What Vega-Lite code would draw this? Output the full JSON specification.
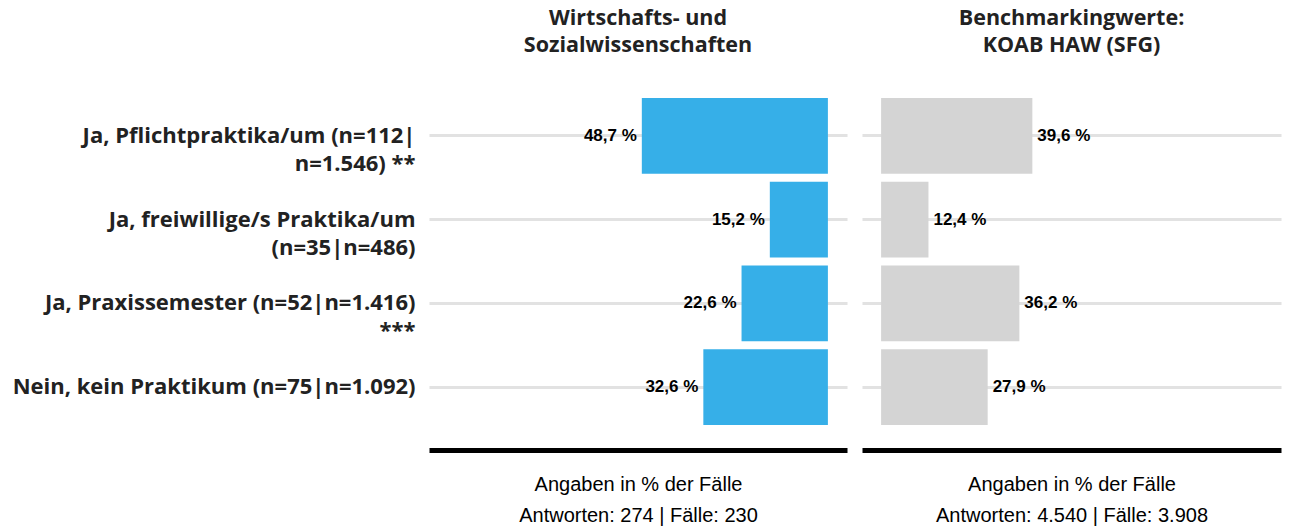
{
  "$schema": "https://vega.github.io/schema/vega-lite/v6.json",
  "background": "white",
  "padding": {"left": 12, "top": 7, "right": 3, "bottom": 5},
  "data": {"values": [
    {"group": "Fach", "category": "Ja, Pflichtpraktika/um (n=112|\nn=1.546) **", "value": 48.7},
    {"group": "Fach", "category": "Ja, freiwillige/s Praktika/um\n(n=35|n=486)", "value": 15.2},
    {"group": "Fach", "category": "Ja, Praxissemester (n=52|n=1.416)\n***", "value": 22.6},
    {"group": "Fach", "category": "Nein, kein Praktikum (n=75|n=1.092)", "value": 32.6},
    {"group": "KOAB", "category": "Ja, Pflichtpraktika/um (n=112|\nn=1.546) **", "value": 39.6},
    {"group": "KOAB", "category": "Ja, freiwillige/s Praktika/um\n(n=35|n=486)", "value": 12.4},
    {"group": "KOAB", "category": "Ja, Praxissemester (n=52|n=1.416)\n***", "value": 36.2},
    {"group": "KOAB", "category": "Nein, kein Praktikum (n=75|n=1.092)", "value": 27.9}
  ]},
  "config": {
    "view": {"stroke": null},
    "concat": {"spacing": 15},
    "title": {"font": "Open Sans", "fontSize": 21.5, "fontWeight": "bold", "color": "#222222", "lineHeight": 27, "anchor": "middle", "offset": 38},
    "axisX": {"domain": true, "domainColor": "#000000", "domainWidth": 5, "ticks": false, "labels": false, "grid": false, "offset": 21,
      "titleFont": "Liberation Sans", "titleFontWeight": "normal", "titleFontSize": 20, "titleLineHeight": 31, "titlePadding": 24, "titleColor": "#000000"},
    "axisY": {"title": null, "domain": false, "ticks": false, "grid": true, "gridColor": "#e2e2e2", "gridWidth": 3, "bandPosition": 0.5,
      "labelFont": "Open Sans", "labelFontWeight": "bold", "labelFontSize": 22, "labelColor": "#222222", "labelLineHeight": 28, "labelPadding": 14, "labelLimit": 600}
  },
  "hconcat": [
    {
      "width": 418, "height": 335,
      "title": {"text": ["Wirtschafts- und", "Sozialwissenschaften"]},
      "transform": [
        {"filter": "datum.group === 'Fach'"},
        {"calculate": "replace(format(datum.value, '.1f'), '.', ',') + ' %'", "as": "label"}
      ],
      "encoding": {
        "y": {"field": "category", "type": "nominal", "sort": null,
          "scale": {"paddingInner": 0.095, "paddingOuter": 0.0475},
          "axis": {"labelExpr": "split(datum.label, '\\n')"}}
      },
      "layer": [
        {"mark": {"type": "bar", "color": "#36AFE8"},
         "encoding": {
           "x": {"field": "value", "type": "quantitative", "scale": {"domain": [-5, 104.4], "reverse": true, "nice": false, "zero": false},
             "axis": {"title": ["Angaben in % der Fälle", "Antworten: 274 | Fälle: 230"]}},
           "x2": {"datum": 0}
         }},
        {"mark": {"type": "text", "align": "right", "baseline": "middle", "dx": -5, "font": "Liberation Sans", "fontWeight": "bold", "fontSize": 17, "color": "#000000"},
         "encoding": {
           "x": {"field": "value", "type": "quantitative"},
           "text": {"field": "label"}
         }}
      ]
    },
    {
      "width": 419, "height": 335,
      "title": {"text": ["Benchmarkingwerte:", "KOAB HAW (SFG)"]},
      "transform": [
        {"filter": "datum.group === 'KOAB'"},
        {"calculate": "replace(format(datum.value, '.1f'), '.', ',') + ' %'", "as": "label"}
      ],
      "encoding": {
        "y": {"field": "category", "type": "nominal", "sort": null,
          "scale": {"paddingInner": 0.095, "paddingOuter": 0.0475},
          "axis": {"labels": false}}
      },
      "layer": [
        {"mark": {"type": "bar", "color": "#D4D4D4"},
         "encoding": {
           "x": {"field": "value", "type": "quantitative", "scale": {"domain": [-5, 104.7], "nice": false, "zero": false},
             "axis": {"title": ["Angaben in % der Fälle", "Antworten: 4.540 | Fälle: 3.908"]}},
           "x2": {"datum": 0}
         }},
        {"mark": {"type": "text", "align": "left", "baseline": "middle", "dx": 5, "font": "Liberation Sans", "fontWeight": "bold", "fontSize": 17, "color": "#000000"},
         "encoding": {
           "x": {"field": "value", "type": "quantitative"},
           "text": {"field": "label"}
         }}
      ]
    }
  ]
}
